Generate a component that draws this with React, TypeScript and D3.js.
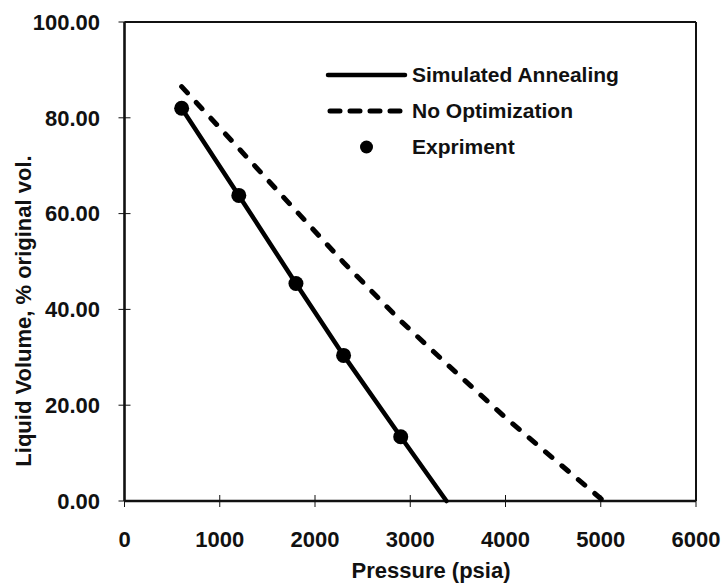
import React from 'react';
import * as d3 from 'd3';

// pressure (psia) / liquid volume (% original vol.)
const expPressure = [600, 1200, 1800, 2300, 2900];
const expVolume = [82.0, 63.8, 45.4, 30.4, 13.4];

const saPressure = [600, 1200, 1800, 2300, 2900, 3380];
const saVolume = [82.0, 63.8, 45.4, 30.4, 13.4, 0];

const noOptPressure = [600, 1200, 1800, 2300, 2900, 3400, 4000, 4500, 5030];
const noOptVolume = [86.5, 73.6, 60.6, 49.8, 37.6, 28.3, 17.4, 8.9, 0];

const xTicks = [0, 1000, 2000, 3000, 4000, 5000, 6000];
const yTicks = [0, 20, 40, 60, 80, 100];

const legendLabels = ['Simulated Annealing', 'No Optimization', 'Expriment'];

const W = 721;
const H = 583;
const margin = { top: 22, right: 25, bottom: 82, left: 124.5 };
const FONT = '"Liberation Sans", Arial, sans-serif';

export default function App() {
  const xScale = d3.scaleLinear().domain([0, 6000]).range([margin.left, W - margin.right]);
  const yScale = d3.scaleLinear().domain([0, 100]).range([H - margin.bottom, margin.top]);

  const line = d3.line<[number, number]>()
    .x(d => xScale(d[0]))
    .y(d => yScale(d[1]));

  const saPath = line(saPressure.map((p, i) => [p, saVolume[i]]));
  const noOptPath = line(noOptPressure.map((p, i) => [p, noOptVolume[i]]));

  const x0 = xScale(0), x1 = xScale(6000);
  const y0 = yScale(0), y1 = yScale(100);

  const legX = 328, legW = 77, legTextX = 412;
  const legY = [75, 111, 147];

  return (
    <svg width={W} height={H} style={{ position: 'absolute', left: 0, top: 0 }} fontFamily={FONT}>
      <rect width={W} height={H} fill="#fff" />

      {/* frame */}
      <line x1={x0} y1={y1} x2={x1} y2={y1} stroke="#111" strokeWidth={2} />
      <line x1={x1} y1={y1} x2={x1} y2={y0} stroke="#111" strokeWidth={2} />
      <line x1={x0} y1={y1} x2={x0} y2={y0} stroke="#111" strokeWidth={2.6} />
      <line x1={x0} y1={y0} x2={x1} y2={y0} stroke="#111" strokeWidth={2.6} />

      {/* y ticks */}
      {yTicks.map(t => (
        <g key={'y' + t}>
          <line x1={x0 - 6} x2={x0 + 6} y1={yScale(t)} y2={yScale(t)} stroke="#111" strokeWidth={1} />
          <text x={100} y={yScale(t)} dy="0.35em" textAnchor="end" fontSize={22} fontWeight="bold" fill="#111">
            {t.toFixed(2)}
          </text>
        </g>
      ))}

      {/* x ticks */}
      {xTicks.map(t => (
        <g key={'x' + t}>
          <line x1={xScale(t)} x2={xScale(t)} y1={y0 - 6} y2={y0 + 6} stroke="#111" strokeWidth={1} />
          <text x={xScale(t)} y={539} dy="0.35em" textAnchor="middle" fontSize={22} fontWeight="bold" fill="#111">
            {t}
          </text>
        </g>
      ))}

      {/* axis titles */}
      <text x={431} y={578} textAnchor="middle" fontSize={22} fontWeight="bold" fill="#111">
        Pressure (psia)
      </text>
      <text transform={`translate(31,311) rotate(-90)`} textAnchor="middle" fontSize={22} fontWeight="bold" fill="#111">
        Liquid Volume, % original vol.
      </text>

      {/* series */}
      <path d={noOptPath ?? ''} fill="none" stroke="#000" strokeWidth={5} strokeDasharray="8.5,13" strokeLinecap="round" />
      <path d={saPath ?? ''} fill="none" stroke="#000" strokeWidth={4.5} strokeLinecap="round" />
      {expPressure.map((p, i) => (
        <circle key={'e' + i} cx={xScale(p)} cy={yScale(expVolume[i])} r={7.5} fill="#000" />
      ))}

      {/* legend */}
      <line x1={legX} x2={legX + legW} y1={legY[0]} y2={legY[0]} stroke="#000" strokeWidth={4.5} strokeLinecap="round" />
      <line x1={legX + 2} x2={legX + legW} y1={legY[1]} y2={legY[1]} stroke="#000" strokeWidth={5} strokeDasharray="10,10" strokeLinecap="round" />
      <circle cx={legX + legW / 2} cy={legY[2]} r={6.5} fill="#000" />
      {legendLabels.map((l, i) => (
        <text key={l} x={legTextX} y={legY[i]} dy="0.35em" fontSize={21} fontWeight="bold" fill="#111">
          {l}
        </text>
      ))}
    </svg>
  );
}
